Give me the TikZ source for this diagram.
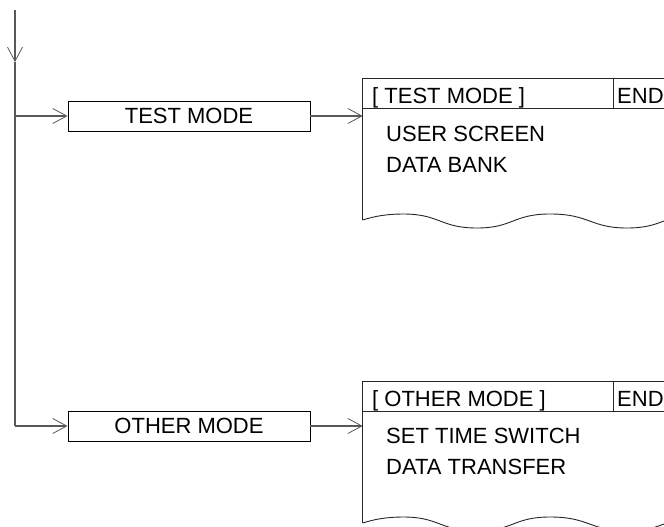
\documentclass[tikz,border=0pt]{standalone}
\usepackage{fontspec}
\setmainfont{Liberation Sans}
\usetikzlibrary{arrows.meta}
\tikzset{
  conn/.style={draw=black!65, line width=1.3pt},
  tip/.style={-{Straight Barb[length=14pt,width=15pt,line width=0.8pt]}},
  modebox/.style={draw=black, line width=0.9pt, minimum width=242pt, minimum height=30pt, inner sep=0pt, font=\fontsize{22}{26}\selectfont},
  panel/.style={draw=black!85, line width=0.9pt},
  ptext/.style={anchor=base west, inner sep=0pt, font=\fontsize{22}{26}\selectfont}
}
\begin{document}
\begin{tikzpicture}[x=1pt,y=-1pt]
\useasboundingbox (0,0) rectangle (664,527);
\clip (0,0) rectangle (664,527);
% main line
\coordinate (top) at (15,10);
\coordinate (mid) at (15,62);
\coordinate (j1) at (15,116);
\coordinate (j2) at (15,426);
\node[modebox] (test) at (189,116) {TEST MODE};
\node[modebox] (other) at (189,426) {OTHER MODE};
\coordinate (p1in) at (362.7,116);
\coordinate (p2in) at (362.7,426);
\draw[conn, tip] (top) -- (mid);
\draw[conn] (mid) -- (j2);
\draw[conn, tip] (j1) -- (test.west);
\draw[conn, tip] (j2) -- (other.west);
\draw[conn, tip] (test.east) -- (p1in);
\draw[conn, tip] (other.east) -- (p2in);
% panel 1
\draw[panel] (362.7,220) -- (362.7,78) -- (700,78);
\draw[panel] (362.7,108.5) -- (700,108.5);
\draw[panel] (613,78) -- (613,108.5);
\draw[panel] (362.7,220) .. controls (375,216) and (388,214) .. (403,214)
  .. controls (440,214) and (440,228) .. (477,228)
  .. controls (513,228) and (513,214) .. (550,214)
  .. controls (590,214) and (590,228) .. (627,228)
  .. controls (664,228) and (664,214) .. (701,214);
\node[ptext] (h1) at (372,103) {[ TEST MODE ]};
\node[ptext] (e1) at (617,103) {END};
\node[ptext] (a1) at (386,141) {USER SCREEN};
\node[ptext] (b1) at (386,172) {DATA BANK};
% panel 2
\draw[panel] (362.7,523) -- (362.7,381) -- (700,381);
\draw[panel] (362.7,411) -- (700,411);
\draw[panel] (613,381) -- (613,411);
\draw[panel] (362.7,523) .. controls (375,519) and (388,517) .. (403,517)
  .. controls (440,517) and (440,531) .. (477,531)
  .. controls (513,531) and (513,517) .. (550,517)
  .. controls (590,517) and (590,531) .. (627,531)
  .. controls (664,531) and (664,517) .. (701,517);
\node[ptext] (h2) at (372,406) {[ OTHER MODE ]};
\node[ptext] (e2) at (617,406) {END};
\node[ptext] (a2) at (386,443) {SET TIME SWITCH};
\node[ptext] (b2) at (386,474) {DATA TRANSFER};
\end{tikzpicture}
\end{document}
